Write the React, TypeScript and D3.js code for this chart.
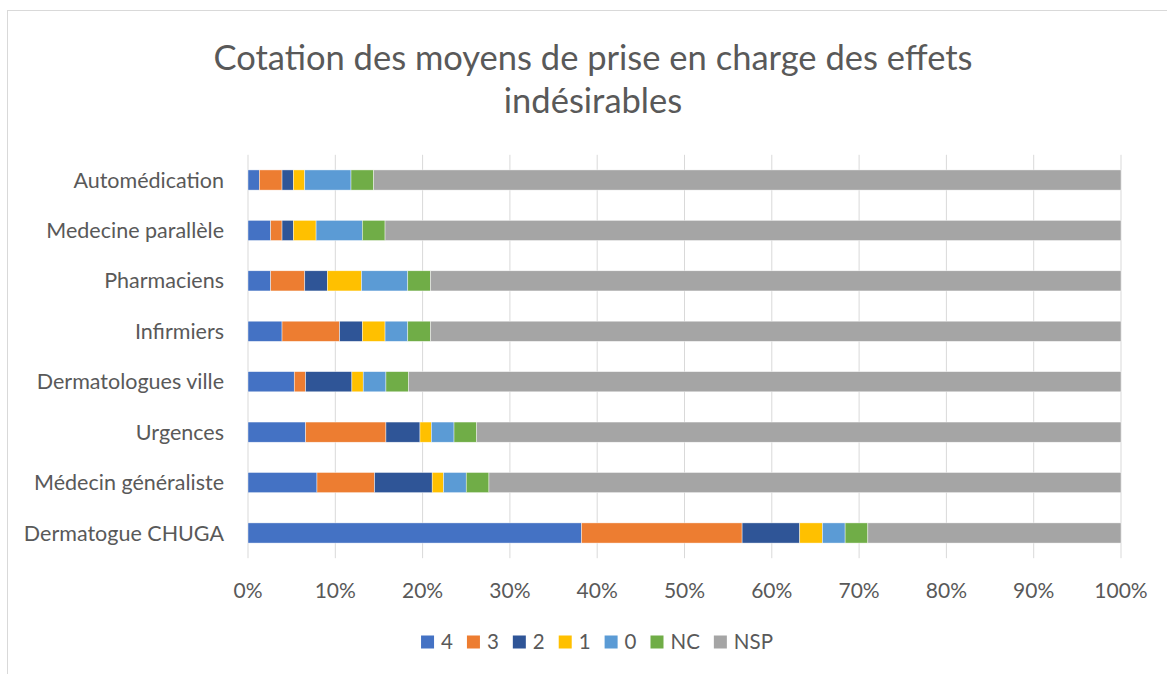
import React, { useEffect, useRef } from 'react';
import * as d3 from 'd3';

const categories = [
  'Automédication',
  'Medecine parallèle',
  'Pharmaciens',
  'Infirmiers',
  'Dermatologues ville',
  'Urgences',
  'Médecin généraliste',
  'Dermatogue CHUGA',
];

const seriesNames = ['4', '3', '2', '1', '0', 'NC', 'NSP'];
const colors = ['#4472C4', '#ED7D31', '#2F5597', '#FFC000', '#5B9BD5', '#70AD47', '#A5A5A5'];

// percentages (top row first)
const s4 = [1.3, 2.6, 2.6, 3.9, 5.3, 6.6, 7.9, 38.2];
const s3 = [2.6, 1.3, 3.9, 6.6, 1.3, 9.2, 6.6, 18.4];
const s2 = [1.3, 1.3, 2.6, 2.6, 5.3, 3.9, 6.6, 6.6];
const s1 = [1.3, 2.6, 3.9, 2.6, 1.3, 1.3, 1.3, 2.6];
const s0 = [5.3, 5.3, 5.3, 2.6, 2.6, 2.6, 2.6, 2.6];
const sNC = [2.6, 2.6, 2.6, 2.6, 2.6, 2.6, 2.6, 2.6];
const sNSP = [85.6, 84.3, 79.1, 79.1, 81.6, 73.8, 72.4, 29.0];

const ticks = [0, 10, 20, 30, 40, 50, 60, 70, 80, 90, 100];

const title = ['Cotation des moyens de prise en charge des effets', 'indésirables'];

const App = () => {
  const ref = useRef<SVGSVGElement>(null);

  useEffect(() => {
    const svg = d3.select(ref.current);
    svg.selectAll('*').remove();

    const width = 1167, height = 674;
    const font = 'Lato, "Open Sans", sans-serif';
    const textColor = '#595959';

    // chart frame
    svg.append('rect')
      .attr('x', 7.5).attr('y', 10.5)
      .attr('width', width + 20).attr('height', height + 20)
      .attr('fill', '#fff').attr('stroke', '#D9D9D9');

    const x = d3.scaleLinear().domain([0, 100]).range([248, 1121]);
    const y = d3.scaleBand().domain(categories).range([154.8, 558.2])
      .paddingInner(0.6).paddingOuter(0.3);

    // gridlines
    svg.append('g').selectAll('line').data(ticks).join('line')
      .attr('x1', d => x(d)).attr('x2', d => x(d))
      .attr('y1', 154.8).attr('y2', 558.2)
      .attr('stroke', '#D9D9D9').attr('stroke-width', 1);

    // stacked bars
    const rows = categories.map((c, i) => ({
      cat: c, '4': s4[i], '3': s3[i], '2': s2[i], '1': s1[i], '0': s0[i], NC: sNC[i], NSP: sNSP[i],
    }));
    const stack = d3.stack<any>().keys(seriesNames)(rows);

    svg.append('g').selectAll('g').data(stack).join('g')
      .attr('fill', (d, i) => colors[i])
      .selectAll('rect').data(d => d).join('rect')
      .attr('x', d => x(d[0]))
      .attr('width', d => x(d[1]) - x(d[0]))
      .attr('y', d => y(d.data.cat)!)
      .attr('height', y.bandwidth())
      .attr('stroke', '#fff').attr('stroke-width', 0.6).attr('stroke-opacity', 0.7);

    // category labels
    svg.append('g').selectAll('text').data(categories).join('text')
      .attr('x', 224)
      .attr('y', d => y(d)! + y.bandwidth() / 2)
      .attr('dy', '0.35em')
      .attr('text-anchor', 'end')
      .attr('font-family', font).attr('font-size', 21.5)
      .attr('fill', textColor)
      .text(d => d);

    // x tick labels
    svg.append('g').selectAll('text').data(ticks).join('text')
      .attr('x', d => x(d))
      .attr('y', 591)
      .attr('dy', '0.35em')
      .attr('text-anchor', 'middle')
      .attr('font-family', font).attr('font-size', 21)
      .attr('fill', textColor)
      .text(d => d + '%');

    // title
    svg.append('g').selectAll('text').data(title).join('text')
      .attr('x', 593)
      .attr('y', (d, i) => 58 + i * 43)
      .attr('dy', '0.35em')
      .attr('text-anchor', 'middle')
      .attr('font-family', font).attr('font-size', 34.5)
      .attr('fill', textColor)
      .text(d => d);

    // legend
    const lg = svg.append('g');
    let cx = 0;
    seriesNames.forEach((name, i) => {
      const item = lg.append('g').attr('transform', `translate(${cx},0)`);
      item.append('rect')
        .attr('x', 0).attr('y', -6.5).attr('width', 13).attr('height', 13)
        .attr('fill', colors[i]);
      const t = item.append('text')
        .attr('x', 20).attr('dy', '0.35em')
        .attr('font-family', font).attr('font-size', 20.5)
        .attr('fill', textColor)
        .text(name);
      const w = (t.node() as SVGTextElement).getComputedTextLength();
      cx += 20 + w + 14;
    });
    const total = cx - 14;
    lg.attr('transform', `translate(${597 - total / 2},642)`);
  }, []);

  return (
    <svg ref={ref} width={1167} height={674}
      style={{ position: 'absolute', left: 0, top: 0, display: 'block' }} />
  );
};

export default App;
